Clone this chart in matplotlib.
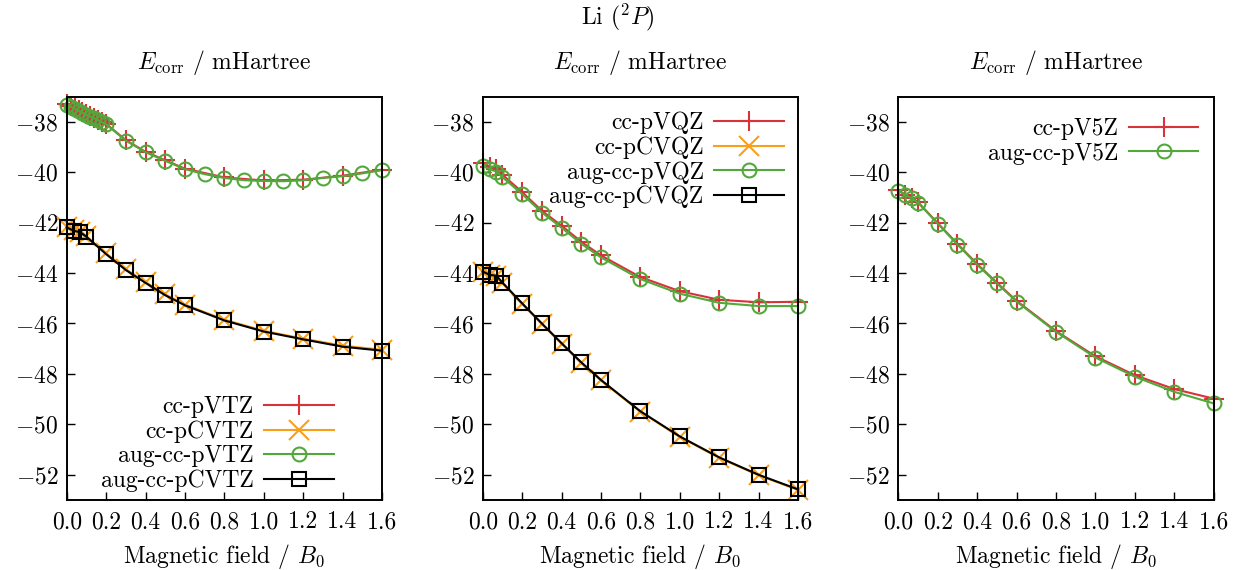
import numpy as np
import matplotlib
matplotlib.use("Agg")
import matplotlib.pyplot as plt

plt.rcParams['font.family'] = 'serif'
plt.rcParams['font.serif'] = ['cmr10', 'DejaVu Serif']
plt.rcParams['mathtext.fontset'] = 'cm'
plt.rcParams['axes.formatter.use_mathtext'] = True
plt.rcParams['font.size'] = 17

# ---- data ----
# panel 1 : triple zeta
b_tz_dense = [0.0, 0.02, 0.04, 0.06, 0.08, 0.10, 0.12, 0.14, 0.16, 0.18, 0.20,
              0.3, 0.4, 0.5, 0.6, 0.7, 0.8, 0.9, 1.0, 1.1, 1.2, 1.3, 1.4, 1.5, 1.6]
b_tz_red = [0.0, 0.02, 0.04, 0.06, 0.08, 0.10, 0.12, 0.14, 0.16, 0.18, 0.20,
            0.3, 0.4, 0.5, 0.6, 0.8, 1.0, 1.2, 1.4, 1.6]
b_sparse = [0.0, 0.035, 0.07, 0.1, 0.2, 0.3, 0.4, 0.5, 0.6, 0.8, 1.0, 1.2, 1.4, 1.6]

e_aug_pvtz = [-37.32, -37.40, -37.48, -37.56, -37.64, -37.72, -37.80, -37.87, -37.94, -38.02, -38.10,
              -38.75, -39.21, -39.55, -39.88, -40.08, -40.23, -40.32, -40.35, -40.36, -40.32,
              -40.23, -40.16, -40.05, -39.92]
e_pvtz = [-37.30, -37.38, -37.46, -37.54, -37.62, -37.70, -37.78, -37.85, -37.92, -38.00, -38.08,
          -38.73, -39.19, -39.53, -39.86, -40.21, -40.33, -40.30, -40.14, -39.90]
e_aug_pcvtz = [-42.19, -42.32, -42.39, -42.56, -43.25, -43.88, -44.39, -44.88, -45.28,
               -45.88, -46.32, -46.63, -46.92, -47.08]
e_pcvtz = [-42.17, -42.30, -42.37, -42.54, -43.22, -43.85, -44.36, -44.85, -45.25,
           -45.85, -46.29, -46.60, -46.88, -47.04]

# panel 2 : quadruple zeta
e_pvqz = [-39.62, -39.78, -39.88, -40.10, -40.79, -41.53, -42.12, -42.76, -43.30,
          -44.16, -44.72, -45.06, -45.16, -45.14]
e_aug_pvqz = [-39.75, -39.88, -39.98, -40.20, -40.87, -41.60, -42.20, -42.84, -43.38,
              -44.24, -44.82, -45.18, -45.31, -45.31]
e_pcvqz = [-43.96, -44.09, -44.13, -44.40, -45.22, -46.02, -46.80, -47.56, -48.26,
           -49.50, -50.50, -51.33, -52.02, -52.60]
e_aug_pcvqz = [-43.94, -44.07, -44.11, -44.38, -45.20, -46.00, -46.78, -47.54, -48.24,
               -49.48, -50.48, -51.31, -52.00, -52.58]

# panel 3 : quintuple zeta
e_pv5z = [-40.71, -40.89, -41.02, -41.19, -42.02, -42.84, -43.64, -44.38, -45.10,
          -46.30, -47.30, -48.05, -48.60, -48.98]
e_aug_pv5z = [-40.73, -40.91, -41.04, -41.21, -42.04, -42.87, -43.67, -44.41, -45.13,
              -46.33, -47.35, -48.11, -48.71, -49.17]

xticks = [0.0, 0.2, 0.4, 0.6, 0.8, 1.0, 1.2, 1.4, 1.6]
yticks = [-52, -50, -48, -46, -44, -42, -40, -38]

red = '#d8323a'
orange = '#f9a01b'
green = '#52a83a'
black = 'black'

fig = plt.figure(figsize=(12.35, 5.7), dpi=100)
lefts = [66.7, 482.7, 898.3]
axes = []
for l in lefts:
    axes.append(fig.add_axes([l / 1235, 1 - 500 / 570, 315.3 / 1235, 403.5 / 570]))


def style(marker, color, ms):
    return dict(color=color, marker=marker, ms=ms, mew=1.5, lw=1.5,
                mfc='none', clip_on=False)


leg_kw = dict(frameon=False, markerfirst=False, handlelength=2.95,
              labelspacing=0.09, borderpad=0, borderaxespad=0, handletextpad=0.45)

ax = axes[0]
ax.plot(b_tz_red, e_pvtz, label='cc-pVTZ', **style('+', red, 15))
ax.plot(b_sparse, e_pcvtz, label='cc-pCVTZ', **style('x', orange, 14))
ax.plot(b_tz_dense, e_aug_pvtz, label='aug-cc-pVTZ', **style('o', green, 10))
ax.plot(b_sparse, e_aug_pcvtz, label='aug-cc-pCVTZ', **style('s', black, 10))
ax.legend(loc='lower right', bbox_to_anchor=(0.848, 0.02), **leg_kw)

ax = axes[1]
ax.plot(b_sparse, e_pvqz, label='cc-pVQZ', **style('+', red, 15))
ax.plot(b_sparse, e_pcvqz, label='cc-pCVQZ', **style('x', orange, 14))
ax.plot(b_sparse, e_aug_pvqz, label='aug-cc-pVQZ', **style('o', green, 10))
ax.plot(b_sparse, e_aug_pcvqz, label='aug-cc-pCVQZ', **style('s', black, 10))
ax.legend(loc='upper right', bbox_to_anchor=(0.955, 0.962), **leg_kw)

ax = axes[2]
ax.plot(b_sparse, e_pv5z, label='cc-pV5Z', **style('+', red, 15))
ax.plot(b_sparse, e_aug_pv5z, label='aug-cc-pV5Z', **style('o', green, 10))
ax.legend(loc='upper right', bbox_to_anchor=(0.952, 0.946), **leg_kw)

for ax in axes:
    ax.set_xlim(0, 1.6)
    ax.set_ylim(-53, -37)
    ax.set_xticks(xticks)
    ax.set_xticklabels(['%.1f' % t for t in xticks])
    ax.set_yticks(yticks)
    ax.tick_params(direction='in', length=6, width=1, top=False, right=False)
    ax.tick_params(axis='y', pad=6)
    ax.tick_params(axis='x', pad=8)
    for sp in ax.spines.values():
        sp.set_linewidth(1.4)
    ax.set_title(r'$E_{\rm corr}$ / mHartree', pad=20, fontsize=17)
    ax.set_xlabel(r'Magnetic field / $B_0$', labelpad=6, fontsize=17)

fig.text(0.5, 1 - 2 / 570, r'Li ($^2P$)', ha='center', va='top', fontsize=17)

fig.savefig('out.png', dpi=100)
